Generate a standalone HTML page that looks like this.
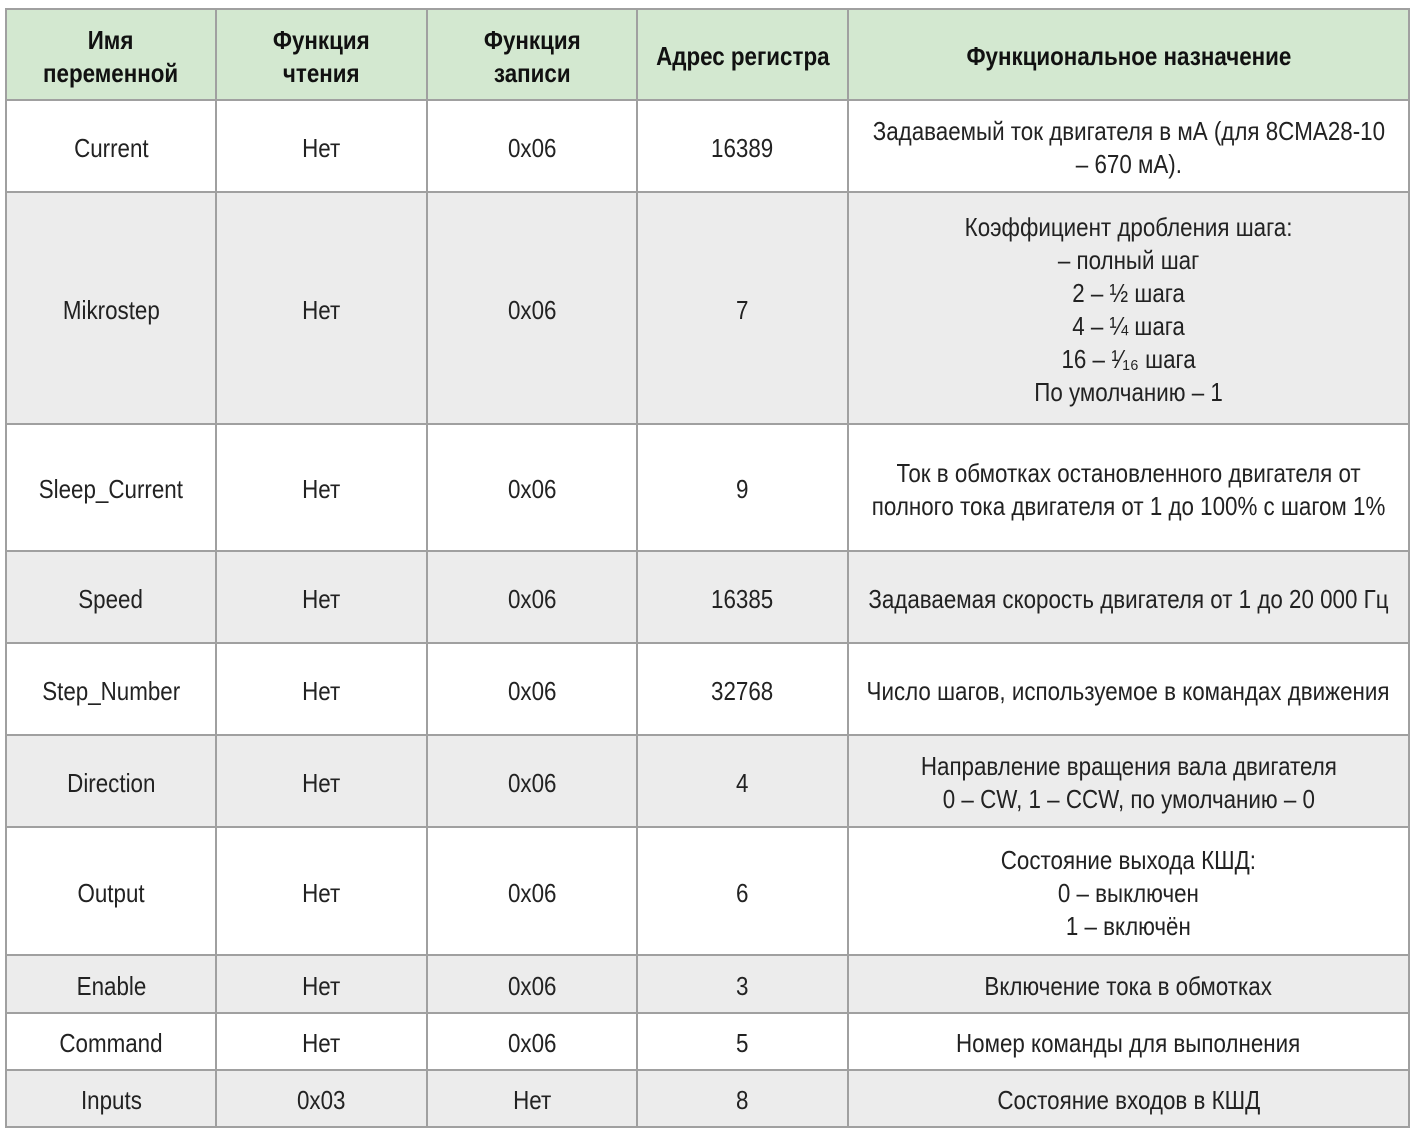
<!DOCTYPE html>
<html><head><meta charset="utf-8"><style>
body{margin:0;width:1414px;height:1131px;background:#fff;overflow:hidden}
table{position:absolute;left:5px;top:8px;width:1403px;border-collapse:collapse;font-family:"Liberation Sans",sans-serif;font-size:26px;color:#222;table-layout:fixed}
td{border:2px solid #a0a0a0;text-align:center;vertical-align:middle;padding:0;line-height:33px;white-space:nowrap;overflow:hidden}
td span{display:inline-block;transform:scaleX(0.86);transform-origin:center;margin:0 -40px;position:relative;top:2px}
tr.h td{background:#d3e8d0;font-weight:bold;color:#111}
tr.g td{background:#ececec}
</style></head><body>
<table>
<colgroup><col style="width:210px"><col style="width:211px"><col style="width:210px"><col style="width:211px"><col style="width:561px"></colgroup>
<tr class="h" style="height:91px"><td><span>Имя<br>переменной</span></td><td><span>Функция<br>чтения</span></td><td><span>Функция<br>записи</span></td><td><span>Адрес регистра</span></td><td><span>Функциональное назначение</span></td></tr>
<tr style="height:92px"><td><span>Current</span></td><td><span>Нет</span></td><td><span>0x06</span></td><td><span>16389</span></td><td><span>Задаваемый ток двигателя в мА (для 8CMA28-10<br>– 670 мА).</span></td></tr>
<tr class="g" style="height:232px"><td><span>Mikrostep</span></td><td><span>Нет</span></td><td><span>0x06</span></td><td><span>7</span></td><td><span>Коэффициент дробления шага:<br>– полный шаг<br>2 – ½ шага<br>4 – ¼ шага<br>16 – ¹⁄₁₆ шага<br>По умолчанию – 1</span></td></tr>
<tr style="height:127px"><td><span>Sleep_Current</span></td><td><span>Нет</span></td><td><span>0x06</span></td><td><span>9</span></td><td><span>Ток в обмотках остановленного двигателя от<br>полного тока двигателя от 1 до 100% с шагом 1%</span></td></tr>
<tr class="g" style="height:92px"><td><span>Speed</span></td><td><span>Нет</span></td><td><span>0x06</span></td><td><span>16385</span></td><td><span>Задаваемая скорость двигателя от 1 до 20 000 Гц</span></td></tr>
<tr style="height:92px"><td><span>Step_Number</span></td><td><span>Нет</span></td><td><span>0x06</span></td><td><span>32768</span></td><td><span>Число шагов, используемое в командах движения</span></td></tr>
<tr class="g" style="height:92px"><td><span>Direction</span></td><td><span>Нет</span></td><td><span>0x06</span></td><td><span>4</span></td><td><span>Направление вращения вала двигателя<br>0 – CW, 1 – CCW, по умолчанию – 0</span></td></tr>
<tr style="height:128px"><td><span>Output</span></td><td><span>Нет</span></td><td><span>0x06</span></td><td><span>6</span></td><td><span>Состояние выхода КШД:<br>0 – выключен<br>1 – включён</span></td></tr>
<tr class="g" style="height:58px"><td><span>Enable</span></td><td><span>Нет</span></td><td><span>0x06</span></td><td><span>3</span></td><td><span>Включение тока в обмотках</span></td></tr>
<tr style="height:57px"><td><span>Command</span></td><td><span>Нет</span></td><td><span>0x06</span></td><td><span>5</span></td><td><span>Номер команды для выполнения</span></td></tr>
<tr class="g" style="height:57px"><td><span>Inputs</span></td><td><span>0x03</span></td><td><span>Нет</span></td><td><span>8</span></td><td><span>Состояние входов в КШД</span></td></tr>
</table>
</body></html>
